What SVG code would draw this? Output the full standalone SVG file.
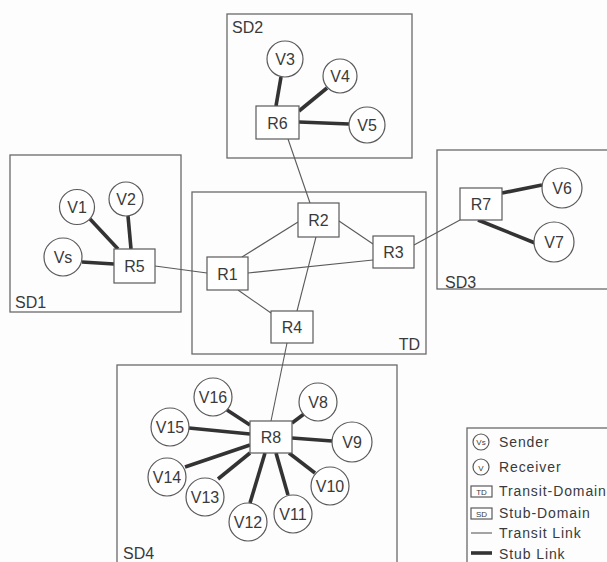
<svg xmlns="http://www.w3.org/2000/svg" width="607" height="562" viewBox="0 0 607 562">
<style>
.dom{fill:none;stroke:#6a6a6a;stroke-width:1.3}
.rt{fill:#fff;stroke:#5a5a5a;stroke-width:1.2}
.v{fill:#fff;stroke:#5a5a5a;stroke-width:1.2}
.lbl{font-family:"Liberation Sans",Arial,sans-serif;font-size:16px;fill:#3a3a3a;text-anchor:middle}
.dl{font-family:"Liberation Sans",Arial,sans-serif;font-size:16px;fill:#3a3a3a}
.lg{font-family:"Liberation Sans",Arial,sans-serif;font-size:14px;fill:#3a3a3a;letter-spacing:0.9px}
.ic{font-family:"Liberation Sans",Arial,sans-serif;font-size:8px;fill:#3a3a3a;text-anchor:middle}
.thin{stroke:#5a5a5a;stroke-width:1.1;fill:none}
.thick{stroke:#333;stroke-width:3.6;fill:none}
</style>
<rect width="607" height="562" fill="#fdfdfd"/>
<g id="domains">
<g id="SD2"><rect class="dom" x="227" y="14" width="185" height="144"/><text class="dl" x="232" y="33">SD2</text></g>
<g id="SD1"><rect class="dom" x="10" y="155" width="171" height="157"/><text class="dl" x="15" y="308">SD1</text></g>
<g id="SD3"><rect class="dom" x="437" y="150" width="180" height="139"/><text class="dl" x="445" y="288">SD3</text></g>
<g id="TD"><rect class="dom" x="192" y="192" width="234" height="162"/><text class="dl" x="420" y="350" text-anchor="end">TD</text></g>
<g id="SD4"><rect class="dom" x="117" y="365" width="280" height="220"/><text class="dl" x="123" y="559">SD4</text></g>
</g>
<g id="connectors">
<line class="thin" x1="288" y1="139" x2="310" y2="203"/>
<line class="thin" x1="339" y1="221" x2="373" y2="244"/>
<line class="thin" x1="242" y1="257" x2="298" y2="222"/>
<line class="thin" x1="248" y1="273" x2="373" y2="260"/>
<line class="thin" x1="238" y1="290" x2="271" y2="313"/>
<line class="thin" x1="316" y1="237" x2="297" y2="311"/>
<line class="thin" x1="287" y1="343" x2="271" y2="421"/>
<line class="thin" x1="155" y1="266" x2="207" y2="273"/>
<line class="thin" x1="414" y1="245" x2="460" y2="220"/>
<line class="thick" x1="281" y1="77" x2="276" y2="106"/>
<line class="thick" x1="327" y1="88" x2="299" y2="111"/>
<line class="thick" x1="299" y1="122" x2="349" y2="124"/>
<line class="thick" x1="90" y1="219" x2="118" y2="249"/>
<line class="thick" x1="128" y1="216" x2="131" y2="249"/>
<line class="thick" x1="82" y1="262" x2="114" y2="264"/>
<line class="thick" x1="502" y1="193" x2="542" y2="185"/>
<line class="thick" x1="478" y1="220" x2="535" y2="243"/>
<line class="thick" x1="227" y1="410" x2="250" y2="425"/>
<line class="thick" x1="189" y1="428" x2="250" y2="434"/>
<line class="thick" x1="185" y1="467" x2="250" y2="445"/>
<line class="thick" x1="218" y1="479" x2="250" y2="453"/>
<line class="thick" x1="250" y1="503" x2="265" y2="453"/>
<line class="thick" x1="288" y1="495" x2="276" y2="453"/>
<line class="thick" x1="315" y1="473" x2="289" y2="453"/>
<line class="thick" x1="332" y1="441" x2="292" y2="438"/>
<line class="thick" x1="304" y1="414" x2="292" y2="423"/>
</g>
<g id="R1"><rect class="rt" x="207" y="257" width="41" height="33"/><text class="lbl" x="227.5" y="279.5">R1</text></g>
<g id="R2"><rect class="rt" x="298" y="203" width="41" height="34"/><text class="lbl" x="318.5" y="226">R2</text></g>
<g id="R3"><rect class="rt" x="373" y="236" width="41" height="32"/><text class="lbl" x="393.5" y="258">R3</text></g>
<g id="R4"><rect class="rt" x="271" y="311" width="42" height="32"/><text class="lbl" x="292" y="333">R4</text></g>
<g id="R5"><rect class="rt" x="114" y="249" width="41" height="34"/><text class="lbl" x="134.5" y="272">R5</text></g>
<g id="R6"><rect class="rt" x="256" y="106" width="43" height="33"/><text class="lbl" x="277.5" y="128.5">R6</text></g>
<g id="R7"><rect class="rt" x="460" y="188" width="42" height="32"/><text class="lbl" x="481" y="210">R7</text></g>
<g id="R8"><rect class="rt" x="250" y="421" width="42" height="32"/><text class="lbl" x="271" y="443">R8</text></g>
<g id="V1"><circle class="v" cx="77" cy="207" r="17.5"/><text class="lbl" x="77" y="213">V1</text></g>
<g id="V2"><circle class="v" cx="126" cy="199" r="17"/><text class="lbl" x="126" y="205">V2</text></g>
<g id="Vs"><circle class="v" cx="63" cy="257" r="19"/><text class="lbl" x="63" y="263">Vs</text></g>
<g id="V3"><circle class="v" cx="285" cy="59" r="18"/><text class="lbl" x="285" y="65">V3</text></g>
<g id="V4"><circle class="v" cx="340" cy="76" r="17"/><text class="lbl" x="340" y="82">V4</text></g>
<g id="V5"><circle class="v" cx="367" cy="125" r="18"/><text class="lbl" x="367" y="131">V5</text></g>
<g id="V6"><circle class="v" cx="562" cy="188" r="20"/><text class="lbl" x="562" y="194">V6</text></g>
<g id="V7"><circle class="v" cx="554" cy="242" r="20"/><text class="lbl" x="554" y="248">V7</text></g>
<g id="V8"><circle class="v" cx="318" cy="402" r="19"/><text class="lbl" x="318" y="408">V8</text></g>
<g id="V9"><circle class="v" cx="352" cy="442" r="20"/><text class="lbl" x="352" y="448">V9</text></g>
<g id="V10"><circle class="v" cx="330" cy="486" r="19"/><text class="lbl" x="330" y="492">V10</text></g>
<g id="V11"><circle class="v" cx="293" cy="514" r="19"/><text class="lbl" x="293" y="520">V11</text></g>
<g id="V12"><circle class="v" cx="248" cy="522" r="19"/><text class="lbl" x="248" y="528">V12</text></g>
<g id="V13"><circle class="v" cx="205" cy="497" r="19"/><text class="lbl" x="205" y="503">V13</text></g>
<g id="V14"><circle class="v" cx="167" cy="477" r="19"/><text class="lbl" x="167" y="483">V14</text></g>
<g id="V15"><circle class="v" cx="170" cy="427" r="19"/><text class="lbl" x="170" y="433">V15</text></g>
<g id="V16"><circle class="v" cx="213" cy="397" r="19"/><text class="lbl" x="213" y="403">V16</text></g>
<g id="legend">
<rect class="dom" x="467" y="428" width="160" height="150"/>
<circle class="v" cx="481" cy="442" r="8"/><text class="ic" x="481" y="445">Vs</text>
<text class="lg" x="499" y="447">Sender</text>
<circle class="v" cx="481" cy="467" r="8"/><text class="ic" x="481" y="471" font-size="10">V</text>
<text class="lg" x="499" y="472">Receiver</text>
<rect class="rt" x="471" y="486" width="21" height="11"/><text class="ic" x="481.5" y="494.5">TD</text>
<text class="lg" x="499" y="496">Transit-Domain</text>
<rect class="rt" x="471" y="508" width="21" height="11"/><text class="ic" x="481.5" y="516.5">SD</text>
<text class="lg" x="499" y="518">Stub-Domain</text>
<line class="thin" x1="471" y1="533" x2="492" y2="533"/>
<text class="lg" x="499" y="538">Transit Link</text>
<line class="thick" x1="471" y1="553" x2="492" y2="553"/>
<text class="lg" x="499" y="559">Stub Link</text>
</g>
</svg>
